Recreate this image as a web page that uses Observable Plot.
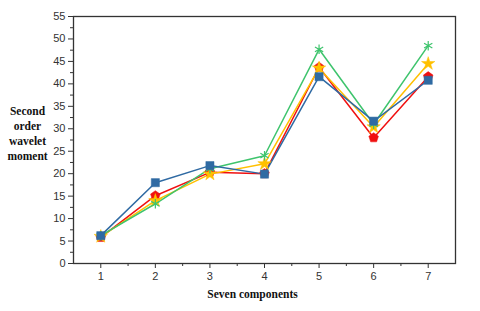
<!DOCTYPE html>
<html>
<head>
<meta charset="utf-8">
<script src="https://cdn.jsdelivr.net/npm/d3@7"></script>
<script src="https://cdn.jsdelivr.net/npm/@observablehq/plot@0.6"></script>
<style>
  html, body { margin: 0; padding: 0; background: #fff; }
  svg { display: block; }
</style>
</head>
<body>
<div id="chart"></div>
<script>
const components = [1, 2, 3, 4, 5, 6, 7];
const blueValues   = [6.2, 18.0, 21.8, 19.9, 41.6, 31.7, 40.8];
const redValues    = [5.8, 15.1, 20.3, 20.0, 43.7, 28.0, 41.6];
const yellowValues = [6.0, 14.0, 19.9, 22.2, 43.5, 30.4, 44.5];
const greenValues  = [6.2, 13.3, 21.1, 24.0, 47.7, 31.0, 48.5];
const yTicks = [0, 5, 10, 15, 20, 25, 30, 35, 40, 45, 50, 55];
const xTicks = [1, 2, 3, 4, 5, 6, 7];

const pentagon = {
  draw(ctx, size) {
    const r = Math.sqrt(size / Math.PI) * 1.1;
    for (let i = 0; i < 5; i++) {
      const a = -Math.PI / 2 + i * 2 * Math.PI / 5;
      const px = r * Math.cos(a), py = r * Math.sin(a);
      if (i === 0) ctx.moveTo(px, py); else ctx.lineTo(px, py);
    }
    ctx.closePath();
  }
};

const series = [
  {name: "red", values: redValues, color: "#f01010", symbol: pentagon, filled: true, r: 4.6},
  {name: "yellow", values: yellowValues, color: "#ffc000", symbol: "star", filled: true, r: 4.2},
  {name: "green", values: greenValues, color: "#3ec46d", symbol: "asterisk", filled: false, r: 4.5},
  {name: "blue", values: blueValues, color: "#2f6aa3", symbol: "square", filled: true, r: 4.6}
];

const none = () => "";
const marks = [
  Plot.frame({stroke: "#333", strokeWidth: 1.3}),
  Plot.axisY({ticks: d3.range(2.5, 55, 5), tickSize: 3, tickFormat: none, label: null, stroke: "#333"}),
  Plot.axisY({ticks: yTicks, tickSize: 5, tickPadding: 3, label: null, fontSize: 11, fill: "#333", stroke: "#333"}),
  Plot.axisX({ticks: d3.range(1.5, 7.01, 1), tickSize: 3, tickFormat: none, label: null, stroke: "#333"}),
  Plot.axisX({ticks: xTicks, tickSize: 5, tickPadding: 4, tickFormat: d => String(d), label: null, fontSize: 11, fill: "#333", stroke: "#333"})
];

for (const s of series) {
  const data = components.map((c, i) => ({x: c, y: s.values[i]}));
  marks.push(Plot.line(data, {x: "x", y: "y", stroke: s.color, strokeWidth: 1.5}));
}
for (const s of series) {
  const data = components.map((c, i) => ({x: c, y: s.values[i]}));
  marks.push(Plot.dot(data, {
    x: "x", y: "y", symbol: () => s.symbol, r: s.r,
    fill: s.filled ? s.color : "none",
    stroke: s.color, strokeWidth: s.filled ? 0.5 : 1.2
  }));
}

marks.push(Plot.text(["Second\norder\nwavelet\nmoment"], {
  frameAnchor: "left", dx: -46, dy: -7, textAnchor: "middle", lineHeight: 1.3,
  fontWeight: "bold", fontSize: 11.5, fontFamily: "'Liberation Serif', 'Times New Roman', serif", fill: "#111"
}));
marks.push(Plot.text(["Seven components"], {
  frameAnchor: "bottom", dx: -12, dy: 34, textAnchor: "middle",
  fontWeight: "bold", fontSize: 11.5, fontFamily: "'Liberation Serif', 'Times New Roman', serif", fill: "#111"
}));

const chart = Plot.plot({
  width: 480,
  height: 311,
  marginLeft: 73,
  marginRight: 25,
  marginTop: 16,
  marginBottom: 48,
  x: {domain: [0.5, 7.5]},
  y: {domain: [0, 55]},
  style: {background: "#fff", overflow: "visible", fontFamily: "'Liberation Sans', Arial, sans-serif"},
  marks
});
document.getElementById("chart").appendChild(chart);
</script>
</body>
</html>
